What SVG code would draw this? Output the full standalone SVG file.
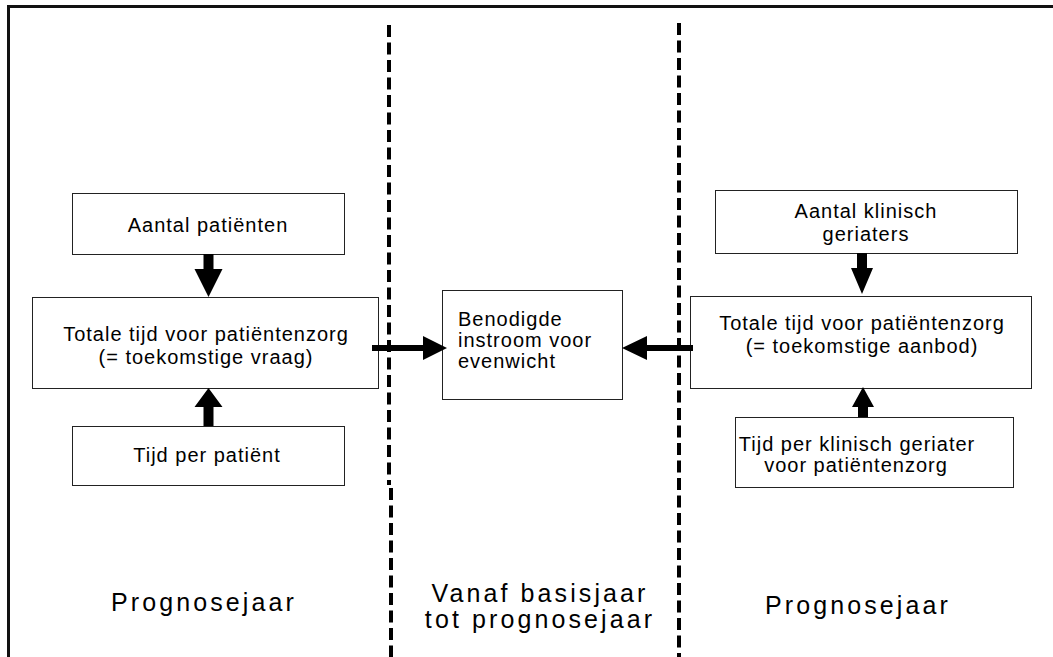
<svg xmlns="http://www.w3.org/2000/svg" width="1053" height="657" viewBox="0 0 1053 657">
<style>
.box{fill:#fff;stroke:#222;stroke-width:1}
.t{font-family:"Liberation Sans",Arial,sans-serif;font-size:20px;letter-spacing:1px;fill:#000}
.big{font-family:"Liberation Sans",Arial,sans-serif;font-size:25px;letter-spacing:3.1px;fill:#000}
.dash{stroke:#000;stroke-width:4;stroke-dasharray:12 5.5;fill:none}
.arr{fill:#000}
</style>
<rect width="1053" height="657" fill="#fff"/>
<path d="M8.5 657 V6.5 H1053" fill="none" stroke="#111" stroke-width="3"/>
<g id="dividers">
<line class="dash" x1="389" y1="25" x2="389" y2="485"/>
<line class="dash" x1="391" y1="488" x2="391" y2="657"/>
<line class="dash" x1="679" y1="23" x2="679" y2="657"/>
</g>
<g id="n-aantal-patienten"><rect class="box" x="72.5" y="193.5" width="272" height="61"/><text class="t" x="208" y="232" text-anchor="middle">Aantal patiënten</text></g>
<g id="n-totale-vraag"><rect class="box" x="32.5" y="297.5" width="346" height="91"/><text class="t" x="206" y="341" text-anchor="middle">Totale tijd voor patiëntenzorg</text><text class="t" x="206" y="364" text-anchor="middle">(= toekomstige vraag)</text></g>
<g id="n-tijd-per-patient"><rect class="box" x="72.5" y="426.5" width="272" height="59"/><text class="t" x="207" y="462" text-anchor="middle">Tijd per patiënt</text></g>
<g id="n-benodigde"><rect class="box" x="442.5" y="290.5" width="180" height="109"/><text class="t" x="458" y="326">Benodigde</text><text class="t" x="458" y="347">instroom voor</text><text class="t" x="458" y="368">evenwicht</text></g>
<g id="n-aantal-geriaters"><rect class="box" x="715.5" y="190.5" width="302" height="63"/><text class="t" x="866" y="218" text-anchor="middle">Aantal klinisch</text><text class="t" x="866" y="241" text-anchor="middle">geriaters</text></g>
<g id="n-totale-aanbod"><rect class="box" x="690.5" y="296.5" width="341" height="92"/><text class="t" x="862" y="330" text-anchor="middle">Totale tijd voor patiëntenzorg</text><text class="t" x="862" y="353" text-anchor="middle">(= toekomstige aanbod)</text></g>
<g id="n-tijd-per-geriater"><rect class="box" x="735.5" y="417.5" width="278" height="70"/><text class="t" x="857" y="451" text-anchor="middle">Tijd per klinisch geriater</text><text class="t" x="856" y="472" text-anchor="middle">voor patiëntenzorg</text></g>
<g id="connectors">
<polygon class="arr" points="203.5,254 213.5,254 213.5,269 222.5,269 208.5,297 194.5,269 203.5,269"/>
<polygon class="arr" points="203.5,426 213.5,426 213.5,407 222.5,407 208.5,388 194.5,407 203.5,407"/>
<polygon class="arr" points="372,345 423,345 423,336 447,348 423,360 423,351 372,351"/>
<polygon class="arr" points="693,345 647,345 647,336 622,348 647,360 647,351 693,351"/>
<polygon class="arr" points="857,253 867,253 867,268 873,268 862,294 851,268 857,268"/>
<polygon class="arr" points="858,417 868,417 868,407 874,407 863,387 852,407 858,407"/>
</g>
<g id="labels">
<text class="big" x="204" y="611" text-anchor="middle">Prognosejaar</text>
<text class="big" x="540" y="602" text-anchor="middle">Vanaf basisjaar</text>
<text class="big" x="540" y="628" text-anchor="middle">tot prognosejaar</text>
<text class="big" x="858" y="614" text-anchor="middle">Prognosejaar</text>
</g>
</svg>
